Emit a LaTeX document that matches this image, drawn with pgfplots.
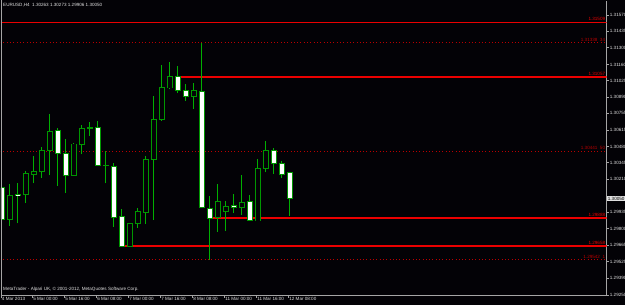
\documentclass[border=0pt]{standalone}
\usepackage{fontspec}
\setmainfont{Liberation Sans}
\usepackage{pgfplots}
\usepackage{pgfplotstable}
\pgfplotsset{compat=1.18}
\definecolor{bg}{RGB}{3,2,6}
\definecolor{wick}{RGB}{0,175,0}
\definecolor{edge}{RGB}{0,150,0}
\definecolor{axgray}{RGB}{165,165,165}
\definecolor{lbl}{RGB}{225,225,225}
\definecolor{lvl}{RGB}{235,0,0}
\definecolor{dotred}{RGB}{185,0,0}
\newcommand{\sm}{\fontsize{4.6}{5.5}\selectfont}

% EURUSD H4 candles: index, open, high, low, close
% falling candles (drawn white)
\pgfplotstableread{
k o h l c
0 1.30142 1.30188 1.29815 1.29879
2 1.30082 1.30180 1.29844 1.30075
7 1.30611 1.30634 1.30153 1.30426
8 1.30424 1.30545 1.30097 1.30241
11 1.30636 1.30681 1.30567 1.30632
12 1.30636 1.30694 1.30318 1.30327
13 1.30327 1.30445 1.30175 1.30322
14 1.30313 1.30341 1.29815 1.29893
15 1.29898 1.29962 1.29650 1.29656
22 1.31059 1.31147 1.30926 1.30943
23 1.30943 1.30999 1.30860 1.30896
25 1.30940 1.31338 1.29970 1.29976
26 1.29968 1.30070 1.29542 1.29885
29 1.29995 1.30086 1.29931 1.29976
31 1.30023 1.30078 1.29868 1.29871
34 1.30449 1.30465 1.30252 1.30341
35 1.30341 1.30360 1.30222 1.30252
36 1.30263 1.30273 1.29906 1.30050
}\bear
% rising candles (drawn hollow)
\pgfplotstableread{
k o h l c
1 1.29877 1.30169 1.29821 1.30072
3 1.30084 1.30280 1.30014 1.30258
4 1.30250 1.30401 1.30175 1.30275
5 1.30275 1.30479 1.30222 1.30445
6 1.30449 1.30750 1.30241 1.30606
9 1.30241 1.30507 1.30236 1.30501
10 1.30501 1.30658 1.30415 1.30628
16 1.29650 1.29848 1.29648 1.29844
17 1.29844 1.29968 1.29807 1.29940
18 1.29935 1.30401 1.29838 1.30374
19 1.30374 1.30899 1.29871 1.30706
20 1.30706 1.31156 1.30694 1.30967
21 1.30967 1.31178 1.30959 1.31059
24 1.30893 1.31009 1.30791 1.30943
27 1.29893 1.30167 1.29774 1.30026
28 1.29946 1.30031 1.29782 1.29987
30 1.29976 1.30244 1.29915 1.30020
32 1.29865 1.30377 1.29862 1.30299
33 1.30299 1.30528 1.30266 1.30449
}\bull

\pgfplotsset{
  wicks/.style={draw=none, mark=none,
    error bars/.cd, y dir=plus, y explicit, error mark=none,
    error bar style={draw=wick, line width=1bp, solid}},
  bodyout/.style={draw=none, mark=none,
    error bars/.cd, y dir=both, y explicit, error mark=none,
    error bar style={draw=edge, line width=5.6bp, solid}},
  bodyin/.style={draw=none, mark=none,
    error bars/.cd, y dir=both, y explicit, error mark=none,
    error bar style={draw=#1, line width=4.0bp, solid}},
}

\begin{document}
\begin{tikzpicture}
\useasboundingbox (0,0) rectangle (625bp,305bp);
\fill[bg] (0,0) rectangle (625bp,305bp);
\begin{axis}[
  at={(1bp,10bp)}, anchor=south west,
  scale only axis, width=605.7bp, height=294bp,
  xmin=-0.0875, xmax=75.625, ymin=1.29250, ymax=1.31686,
  axis x line*=bottom, axis y line*=right,
  axis line style={-, draw=axgray, line width=0.8bp},
  every outer x axis line/.append style={-},
  every outer y axis line/.append style={-},
  tick style={draw=axgray, line width=0.8bp},
  tick align=outside, major tick length=2.5bp,
  scaled y ticks=false,
  ytick={1.31570,1.31435,1.31300,1.31160,1.31025,1.30890,1.30755,1.30615,1.30480,1.30345,1.30210,1.29935,1.29800,1.29665,1.29525,1.29390,1.29250},
  yticklabels={1.31570,1.31435,1.31300,1.31160,1.31025,1.30890,1.30755,1.30615,1.30480,1.30345,1.30210,1.29935,1.29800,1.29665,1.29525,1.29390,1.29250},
  xtick={-0.0875,3.83,7.83,11.83,15.83,19.83,23.83,27.83,31.83,35.83},
  xticklabels={4 Mar 2013,5 Mar 00:00,5 Mar 16:00,6 Mar 08:00,7 Mar 00:00,7 Mar 16:00,8 Mar 08:00,11 Mar 00:00,11 Mar 16:00,12 Mar 08:00},
  xticklabel style={font=\sm, text=lbl, anchor=north west, inner sep=0pt, xshift=0.8bp},
  yticklabel style={font=\sm, text=lbl, anchor=west, inner sep=0pt, xshift=0.5bp},
]
% dotted levels
\addplot[dotred, line width=1bp, dash pattern=on 1bp off 2.3bp] coordinates {(-0.2,1.31338) (76,1.31338)};
\addplot[dotred, line width=1bp, dash pattern=on 1bp off 2.3bp] coordinates {(-0.2,1.30441) (76,1.30441)};
\addplot[dotred, line width=1bp, dash pattern=on 1bp off 2.3bp] coordinates {(-0.2,1.29542) (76,1.29542)};
% red levels
\addplot[lvl, line width=1.6bp] coordinates {(-0.2,1.31509) (76,1.31509)};
\addplot[lvl, line width=1.6bp] coordinates {(21.9,1.31057) (76,1.31057)};
\addplot[lvl, line width=1.6bp] coordinates {(26.0,1.29888) (76,1.29888)};
\addplot[lvl, line width=1.6bp] coordinates {(15.2,1.29658) (76,1.29658)};
% wicks
\addplot[wicks] table[x=k, y=l, y error expr=\thisrow{h}-\thisrow{l}] {\bear};
\addplot[wicks] table[x=k, y=l, y error expr=\thisrow{h}-\thisrow{l}] {\bull};
% bodies
\addplot[bodyout] table[x=k, y expr={(\thisrow{o}+\thisrow{c})/2}, y error expr={abs(\thisrow{o}-\thisrow{c})/2+0.00004}] {\bear};
\addplot[bodyout] table[x=k, y expr={(\thisrow{o}+\thisrow{c})/2}, y error expr={abs(\thisrow{o}-\thisrow{c})/2+0.00004}] {\bull};
\addplot[bodyin=white] table[x=k, y expr={(\thisrow{o}+\thisrow{c})/2}, y error expr={max(abs(\thisrow{o}-\thisrow{c})/2-0.00003,0)}] {\bear};
\addplot[bodyin=bg] table[x=k, y expr={(\thisrow{o}+\thisrow{c})/2}, y error expr={max(abs(\thisrow{o}-\thisrow{c})/2-0.00003,0)}] {\bull};
% level labels
\node[anchor=south east, inner sep=0pt, text=lvl, font=\sm, yshift=1.3bp] at (axis cs:75.45,1.31509) {1.31509};
\node[anchor=south east, inner sep=0pt, text=dotred, font=\sm, yshift=1.3bp] at (axis cs:75.45,1.31338) {1.31338\ \ 34};
\node[anchor=south east, inner sep=0pt, text=lvl, font=\sm, yshift=1.3bp] at (axis cs:75.45,1.31057) {1.31057};
\node[anchor=south east, inner sep=0pt, text=dotred, font=\sm, yshift=1.3bp] at (axis cs:75.45,1.30441) {1.30441\ \ 50};
\node[anchor=south east, inner sep=0pt, text=lvl, font=\sm, yshift=1.3bp] at (axis cs:75.45,1.29888) {1.29888};
\node[anchor=south east, inner sep=0pt, text=lvl, font=\sm, yshift=1.3bp] at (axis cs:75.45,1.29658) {1.29658};
\node[anchor=south east, inner sep=0pt, text=dotred, font=\sm, yshift=1.3bp] at (axis cs:75.45,1.29542) {1.29542\ \ 1};
\coordinate (cp) at (axis cs:75.625,1.30050);
\end{axis}
\draw[axgray, line width=0.8bp] (1.2bp,10bp) -- (1.2bp,305bp);
\node[anchor=west, inner sep=0.6bp, fill=lbl, text=black, font=\sm] at ([xshift=0.4bp]cp) {1.30050};
\node[anchor=west, inner sep=0pt, text=lbl, font=\sm] at (3bp,299.5bp) {EURUSD,H4\ \ 1.30263 1.30273 1.29906 1.30050};
\node[anchor=west, inner sep=0pt, text=lbl, font=\sm] at (3bp,16bp) {MetaTrader - Alpari UK, © 2001-2012, MetaQuotes Software Corp.};
\end{tikzpicture}
\end{document}
